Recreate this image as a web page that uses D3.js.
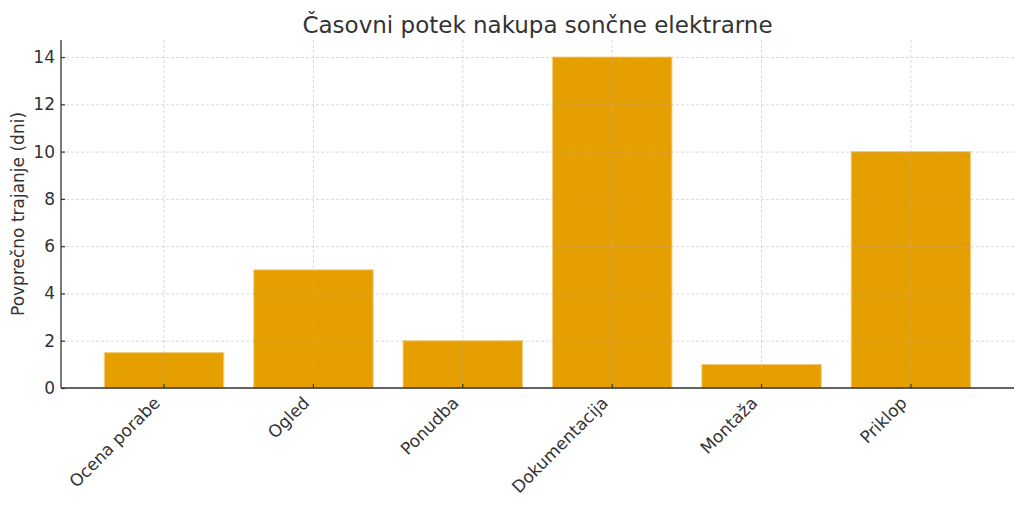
<!DOCTYPE html>
<html><head><meta charset="utf-8">
<script src="https://cdn.jsdelivr.net/npm/d3@7"></script>
<style>body{margin:0;background:#fff}svg{display:block;font-family:"DejaVu Sans",sans-serif}</style>
</head><body><svg id="c" width="1024" height="507"></svg>
<script>
const categories = ["Ocena porabe","Ogled","Ponudba","Dokumentacija","Montaža","Priklop"];
const values = [1.5,5,2,14,1,10];
const yTicks = [0,2,4,6,8,10,12,14];
const title = "Časovni potek nakupa sončne elektrarne";
const yLabel = "Povprečno trajanje (dni)";

const svg = d3.select("#c");
const L=61,R=1014,T=40,B=388;
const x = d3.scaleBand().domain(categories).range([L,R]).paddingInner(0.2).paddingOuter(0.29);
const y = d3.scaleLinear().domain([0,14.72]).range([B,T]);
const txt="#333";

// bars
svg.append("g").selectAll("rect").data(values).join("rect")
  .attr("x",(d,i)=>x(categories[i])).attr("width",x.bandwidth())
  .attr("y",d=>y(d)).attr("height",d=>y(0)-y(d))
  .attr("fill","#E69F00").attr("stroke","#f3cf80").attr("stroke-width",1);

// grid
const g=svg.append("g");
g.selectAll(".hy").data(yTicks).join("line").attr("x1",L).attr("x2",R)
  .attr("y1",d=>y(d)+0.5).attr("y2",d=>y(d)+0.5)
  .attr("stroke","#b0b0b0").attr("stroke-opacity",0.6).attr("stroke-dasharray","3,2").attr("stroke-width",0.8);
g.selectAll(".vx").data(categories).join("line").attr("y1",T).attr("y2",B)
  .attr("x1",d=>x(d)+x.bandwidth()/2).attr("x2",d=>x(d)+x.bandwidth()/2)
  .attr("stroke","#b0b0b0").attr("stroke-opacity",0.6).attr("stroke-dasharray","3,2").attr("stroke-width",0.8);

// axes
const ya = svg.append("g").attr("transform",`translate(${L},0)`)
  .call(d3.axisLeft(y).tickValues(yTicks).tickSize(-4).tickPadding(6).tickFormat(d3.format("d")));
const xa = svg.append("g").attr("transform",`translate(0,${B})`)
  .call(d3.axisBottom(x).tickSize(-4).tickPadding(8));
[ya,xa].forEach(a=>{a.select(".domain").attr("stroke","#333").attr("stroke-width",1.3);
  a.selectAll(".tick line").attr("stroke","#333").attr("stroke-width",1.2);
  a.selectAll("text").attr("fill",txt).style("font-size","17px").style("font-family","DejaVu Sans");});
ya.select(".domain").attr("d",`M0,${B}V${T}`);
xa.select(".domain").attr("d",`M${L},0H${R}`);
xa.selectAll(".tick text").attr("text-anchor","end").attr("x",0).attr("y",0).attr("dy",0)
  .attr("transform","translate(-3,16) rotate(-45)");

svg.append("text").attr("x",(L+R)/2).attr("y",33).attr("text-anchor","middle")
  .attr("fill",txt).style("font-size","23px").text(title);
svg.append("text").attr("transform",`translate(24,${(T+B)/2}) rotate(-90)`).attr("text-anchor","middle")
  .attr("fill",txt).style("font-size","17px").text(yLabel);
</script></body></html>
